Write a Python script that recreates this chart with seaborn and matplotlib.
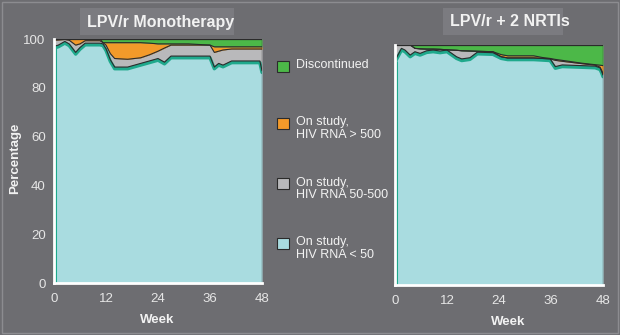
import numpy as np
import pandas as pd
import matplotlib
matplotlib.use("Agg")
import matplotlib.pyplot as plt
from matplotlib.patches import Rectangle
import seaborn as sns

# ---- data: percentage of patients in each category by study week ----
categories = ["On study,\nHIV RNA < 50", "On study,\nHIV RNA 50-500",
              "On study,\nHIV RNA > 500", "Discontinued"]

weeks_mono = [0, 1, 2.5, 3.5, 5, 6, 7.2, 10.6, 11.3, 12, 13, 14, 17, 20, 22,
              24, 25.5, 27, 31, 36, 37, 38, 39, 41, 47.5, 48]
mono_lt50 = [97, 97.5, 99, 98, 94.5, 96.5, 98.3, 98.3, 98, 96, 91.5, 88.5, 88.5,
             90, 91, 92, 90.5, 93, 93, 93, 88.5, 90, 89.3, 91, 91, 87]
mono_50_500 = [2.5, 2.1, 0.8, 1.5, 3.0, 1.5, 1.0, 1.0, 0.5, 1.5, 2.5, 3.5, 3.2,
               2.3, 2.5, 3.0, 5.8, 4.5, 4.5, 4.5, 6.0, 5.0, 6.2, 4.9, 4.9, 8.9]
mono_gt500 = [0.5, 0.4, 0.2, 0.5, 2.5, 2.0, 0.7, 0.7, 0.0, 1.0, 4.5, 6.5, 6.8,
              6.2, 4.8, 3.0, 1.7, 0.5, 0.5, 0.0, 2.3, 1.8, 1.3, 0.9, 0.9, 0.9]
mono_disc = [0, 0, 0, 0, 0, 0, 0, 0, 1.5, 1.5, 1.5, 1.5, 1.5, 1.5, 1.7, 2.0,
             2.0, 2.0, 2.0, 2.5, 3.2, 3.2, 3.2, 3.2, 3.2, 3.2]

weeks_combo = [0, 1.5, 2.3, 3.5, 4.6, 5.8, 7.3, 8.8, 10.4, 12, 14.2, 15.4, 17.3,
               19, 22.6, 24.5, 26, 32, 34, 35.8, 37, 38.6, 43.2, 46.2, 47.3,
               47.7, 48]
combo_lt50 = [93.5, 98.6, 97.9, 95.8, 97.2, 96.5, 97.6, 97.9, 97.5, 97.9, 95.1,
              94.2, 94.7, 97, 96.8, 95.1, 94.6, 94.6, 94.4, 94.2, 91, 91.7,
              91.4, 91.2, 90.5, 89, 87.5]
combo_50_500 = [6.5, 1.4, 2.1, 4.2, 1.4, 1.9, 0.7, 0.4, 0.7, 0.1, 2.7, 3.4, 2.8,
                0.4, 0.4, 0, 0, 0, 0, 0, 2.6, 1.5, 0.8, 0.4, 0.3, 0.3, 0.3]
combo_gt500 = [0, 0, 0, 0, 0, 0, 0, 0, 0, 0, 0, 0, 0, 0, 0, 0.9, 0.9, 0.9, 0.4,
               0.2, 0.4, 0.4, 0.2, 0.2, 0.8, 2.2, 3.6]
combo_disc = [0, 0, 0, 0, 1.4, 1.6, 1.7, 1.7, 1.8, 2.0, 2.2, 2.4, 2.5, 2.6, 2.8,
              4.0, 4.5, 4.5, 5.2, 5.6, 6.0, 6.4, 7.6, 8.2, 8.4, 8.5, 8.6]

panel_titles = ["LPV/r Monotherapy", "LPV/r + 2 NRTIs"]
x_ticks = [0, 12, 24, 36, 48]
y_ticks = [0, 20, 40, 60, 80, 100]

# ---- style ----
BG = "#6d6d71"
TITLE_BOX = "#7b7b80"
TEXT = "#f2f2f2"
TICK_TEXT = "#e6e6e6"
EDGE = "#2b2b2b"
TEAL = "#1fa98c"
colors = ["#a9dce0", "#b9b9bb", "#f39a2a", "#4cb848"]

sns.set_theme(style="white")
plt.rcParams["font.family"] = ["Liberation Sans", "DejaVu Sans"]

W, H = 620, 335
fig = plt.figure(figsize=(W / 100, H / 100), dpi=100)
fig.patch.set_facecolor(BG)


def fig_rect(x0, y0, x1, y1):
    """Convert a pixel box (top-left origin) into figure-fraction rect."""
    return [x0 / W, 1 - y1 / H, (x1 - x0) / W, (y1 - y0) / H]


def draw_panel(ax, weeks, series, show_ylabels):
    df = pd.DataFrame({"week": weeks})
    cum = np.cumsum(np.vstack(series), axis=0)
    lower = np.zeros(len(weeks))
    for i, (top, col) in enumerate(zip(cum, colors)):
        ax.fill_between(weeks, lower, top, color=col, lw=0, zorder=2 + i)
        lower = top
    # teal rim just inside the top of the < 50 band and along its left edge
    df["rim"] = cum[0] - 0.7
    sns.lineplot(data=df, x="week", y="rim", ax=ax, color=TEAL, lw=2.4,
                 zorder=7)
    ax.plot([weeks[0] + 0.25, weeks[0] + 0.25], [0, cum[0][0] - 0.7],
            color=TEAL, lw=2.2, zorder=7)
    # dark outlines between the stacked bands
    for k, name in enumerate(["b1", "b2", "b3"]):
        df[name] = cum[k]
        sns.lineplot(data=df, x="week", y=name, ax=ax, color=EDGE, lw=0.8,
                     zorder=8)
    ax.plot([weeks[-1], weeks[-1]], [0, 100], color=EDGE, lw=0.9, zorder=8)
    ax.plot([weeks[0], weeks[-1]], [100, 100], color=EDGE, lw=0.9, zorder=8)

    ax.set_facecolor(BG)
    ax.set_xlim(0, 48)
    ax.set_ylim(0, 100)
    ax.set_xticks(x_ticks)
    ax.set_yticks(y_ticks)
    for s in ["top", "right"]:
        ax.spines[s].set_visible(False)
    for s in ["left", "bottom"]:
        ax.spines[s].set_color("white")
        ax.spines[s].set_linewidth(2)
        ax.spines[s].set_zorder(10)
    ax.tick_params(axis="both", direction="out", length=4, width=2,
                   colors="white", labelcolor=TICK_TEXT, labelsize=9.5)
    ax.tick_params(axis="x", pad=3)
    ax.tick_params(axis="y", pad=2)
    if not show_ylabels:
        ax.set_yticklabels([])
    ax.set_xlabel("")
    ax.set_ylabel("")


ax1 = fig.add_axes(fig_rect(54, 39, 262, 283))
draw_panel(ax1, weeks_mono, [mono_lt50, mono_50_500, mono_gt500, mono_disc], True)
ax2 = fig.add_axes(fig_rect(395, 45, 603, 285))
draw_panel(ax2, weeks_combo, [combo_lt50, combo_50_500, combo_gt500, combo_disc], False)

# panel titles on light boxes
for (x0, x1), cx, title in zip([(80, 234), (443, 563)], [161, 510], panel_titles):
    fig.add_artist(Rectangle((x0 / W, 1 - 35 / H), (x1 - x0) / W, 27 / H,
                             transform=fig.transFigure, color=TITLE_BOX, lw=0,
                             zorder=0))
    fig.text(cx / W, 1 - 22 / H, title, color=TEXT, fontsize=11.5,
             fontweight="bold", ha="center", va="center")

# axis labels
fig.text(15 / W, 1 - 158 / H, "Percentage", color=TEXT, fontsize=9.5,
         fontweight="bold", rotation=90, ha="center", va="center")
fig.text(157 / W, 1 - 320 / H, "Week", color=TEXT, fontsize=9.5,
         fontweight="bold", ha="center", va="center")
fig.text(508 / W, 1 - 322 / H, "Week", color=TEXT, fontsize=9.5,
         fontweight="bold", ha="center", va="center")

# legend (top to bottom: discontinued ... < 50)
legend_tops = [61, 118, 178, 238]
for top, label, col in zip(legend_tops, categories[::-1], colors[::-1]):
    fig.add_artist(Rectangle((277 / W, 1 - (top + 11) / H), 12 / W, 11 / H,
                             transform=fig.transFigure, facecolor=col,
                             edgecolor=EDGE, lw=0.8))
    fig.text(296 / W, 1 - (top - 1.5) / H, label, color=TEXT, fontsize=9,
             ha="left", va="top", linespacing=1.0)

# thin frame round the figure
fig.add_artist(Rectangle((2 / W, 2 / H), (W - 4) / W, (H - 4) / H,
                         transform=fig.transFigure, fill=False,
                         edgecolor="#8c8c90", lw=1))

fig.savefig("out.png", dpi=100, facecolor=BG)
